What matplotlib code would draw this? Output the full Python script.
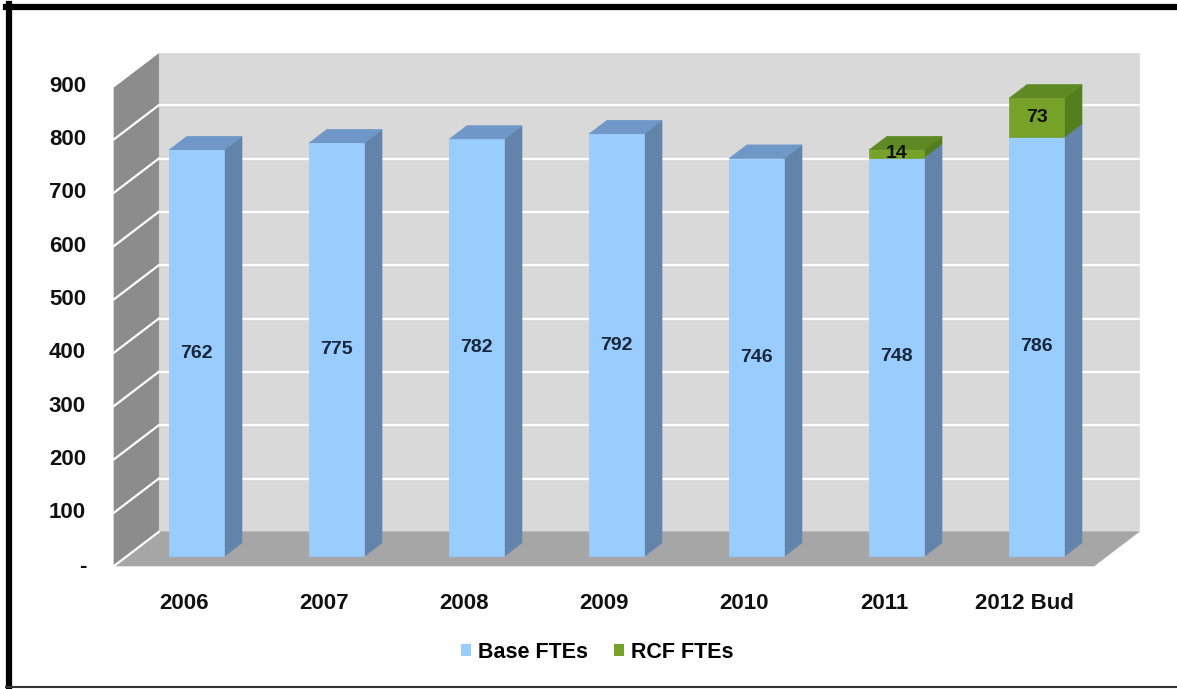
import matplotlib
matplotlib.use("Agg")
import matplotlib.pyplot as plt
from matplotlib.patches import Polygon, Patch
from matplotlib.lines import Line2D

# Staff levels by year
categories = ["2006", "2007", "2008", "2009", "2010", "2011", "2012 Bud"]
base_ftes = [762, 775, 782, 792, 746, 748, 786]
rcf_ftes = [0, 0, 0, 0, 0, 14, 73]
y_ticks = [0, 100, 200, 300, 400, 500, 600, 700, 800, 900]
y_tick_labels = ["-", "100", "200", "300", "400", "500", "600", "700", "800", "900"]
series_names = ["Base FTEs", "RCF FTEs"]

plt.rcParams["font.family"] = ["Liberation Sans", "DejaVu Sans"]

# Oblique projection used for the pseudo-3D look
DX = 0.32      # horizontal shift of the full depth, in category units
DY = 64.0      # vertical shift of the full depth, in value units
D0, D1 = 0.28, 0.68   # depth range occupied by the bars
BAR_W = 0.393
Y_MAX = 900
N = len(categories)

WALL_BACK = "#d9d9d9"
WALL_LEFT = "#8c8c8c"
FLOOR = "#a6a6a6"
BASE_COLS = ("#99ccff", "#6284ab", "#6f98c8")      # front, side, top
RCF_COLS = ("#77a22a", "#547d1d", "#5f8a23")

fig = plt.figure(figsize=(11.77, 6.89), dpi=100)
ax = fig.add_axes([0, 0, 1, 1])
ax.set_xlim(-184 / 140, (1177 - 184) / 140)
ax.set_ylim((566 - 689) / (480 / 900), 566 / (480 / 900))
ax.axis("off")

x_left, x_right = -0.5, N - 0.5


def shift(x, y, d):
    return (x + d * DX, y + d * DY)


def poly(pts, color, z):
    ax.add_patch(Polygon(pts, closed=True, facecolor=color, edgecolor=color,
                         linewidth=0.5, zorder=z))


# Back wall, left wall and floor
poly([shift(x_left, 0, 1), shift(x_right, 0, 1), shift(x_right, Y_MAX, 1),
      shift(x_left, Y_MAX, 1)], WALL_BACK, 0)
poly([(x_left, 0), (x_left, Y_MAX), shift(x_left, Y_MAX, 1), shift(x_left, 0, 1)],
     WALL_LEFT, 0)
poly([(x_left, 0), (x_right, 0), shift(x_right, 0, 1), shift(x_left, 0, 1)],
     FLOOR, 0)

# Gridlines on the walls
for v in y_ticks:
    bx0, by = shift(x_left, v, 1)
    bx1, _ = shift(x_right, v, 1)
    if v > 0:
        ax.plot([bx0, bx1], [by, by], color="white", lw=1.6, zorder=1)
    ax.plot([x_left, bx0], [v, by], color="white", lw=1.6, zorder=1)


def draw_box(xc, v0, v1, cols, z, top=True):
    xl, xr = xc - BAR_W / 2, xc + BAR_W / 2
    front, side, topc = cols
    poly([shift(xl, v0, D0), shift(xr, v0, D0), shift(xr, v1, D0), shift(xl, v1, D0)],
         front, z + 0.2)
    poly([shift(xr, v0, D0), shift(xr, v0, D1), shift(xr, v1, D1), shift(xr, v1, D0)],
         side, z + 0.1)
    if top:
        poly([shift(xl, v1, D0), shift(xr, v1, D0), shift(xr, v1, D1), shift(xl, v1, D1)],
             topc, z + 0.1)


for i, (b, r) in enumerate(zip(base_ftes, rcf_ftes)):
    z = 2 + i
    draw_box(i, 0, b, BASE_COLS, z, top=(r == 0))
    tx, ty = shift(i, b / 2, D0)
    ax.text(tx, ty, f"{b}", ha="center", va="center", fontsize=14,
            fontweight="bold", color="#17263a", zorder=z + 0.5)
    if r > 0:
        draw_box(i, b, b + r, RCF_COLS, z + 0.3)
        tx, ty = shift(i, b + r / 2, D0)
        ax.text(tx, ty, f"{r}", ha="center", va="center", fontsize=14,
                fontweight="bold", color="#111111", zorder=z + 0.8)

# Value axis labels
for v, lab in zip(y_ticks, y_tick_labels):
    ax.text(x_left - 0.2, v, lab, ha="right", va="center", fontsize=16,
            fontweight="bold", color="#111111")

# Category labels
for i, lab in enumerate(categories):
    ax.text(i, -71, lab, ha="center", va="center", fontsize=16,
            fontweight="bold", color="#111111")

handles = [Patch(facecolor=BASE_COLS[0], edgecolor="none"),
           Patch(facecolor=RCF_COLS[0], edgecolor="none")]
fig.legend(handles, series_names, loc="center",
           bbox_to_anchor=(597 / 1177, 1 - 652 / 689), ncol=2, frameon=False,
           handlelength=0.5, handleheight=0.5, handletextpad=0.3,
           columnspacing=1.2, prop={"size": 15.5, "weight": "bold"})

# Frame around the figure
fig.add_artist(Line2D([6 / 1177, 1], [1 - 7 / 689, 1 - 7 / 689], color="black",
                      lw=4.5, transform=fig.transFigure))
fig.add_artist(Line2D([9 / 1177, 9 / 1177], [0, 1 - 4 / 689], color="black",
                      lw=4.5, transform=fig.transFigure))
fig.add_artist(Line2D([6 / 1177, 1], [2 / 689, 2 / 689], color="#333333",
                      lw=1.5, transform=fig.transFigure))

fig.savefig("out.png", dpi=100)
